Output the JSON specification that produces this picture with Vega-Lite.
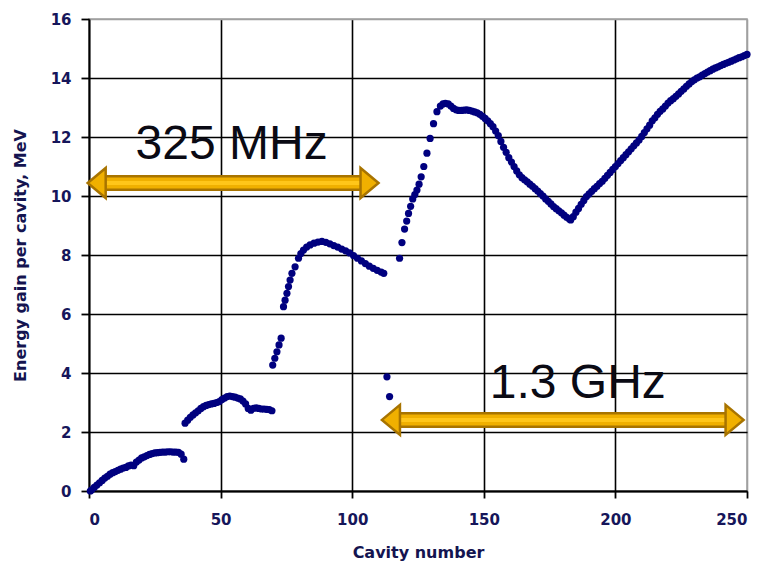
{
  "$schema": "https://vega.github.io/schema/vega-lite/v6.json",
  "width": 658,
  "height": 472,
  "autosize": "none",
  "padding": {"left": 89, "top": 19, "right": 20, "bottom": 74},
  "background": "white",
  "config": {
    "view": {"stroke": "#a0a0a0", "strokeWidth": 1.5},
    "axis": {
      "labelFont": "DejaVu Sans", "labelFontWeight": "bold", "labelFontSize": 15, "labelColor": "#16165a",
      "titleFont": "DejaVu Sans", "titleFontWeight": "bold", "titleFontSize": 16, "titleColor": "#141450",
      "domainColor": "black", "domainWidth": 1.8, "tickColor": "black", "tickWidth": 1.8,
      "gridColor": "black", "gridWidth": 1.6, "gridOpacity": 1
    }
  },
  "datasets": {
    "pts": [
      {"c":0.5,"e":0.0},{"c":1,"e":0.04},{"c":2,"e":0.12},{"c":3,"e":0.2},{"c":4,"e":0.28},{"c":5,"e":0.36},{"c":6,"e":0.44},{"c":7,"e":0.5},{"c":8,"e":0.57},{"c":9,"e":0.62},{"c":10,"e":0.66},{"c":11,"e":0.7},{"c":12,"e":0.74},{"c":13,"e":0.78},{"c":14,"e":0.8},{"c":15,"e":0.85},{"c":16,"e":0.88},{"c":17,"e":0.86},{"c":18,"e":0.98},{"c":19,"e":1.05},{"c":20,"e":1.12},{"c":21,"e":1.16},{"c":22,"e":1.2},{"c":23,"e":1.24},{"c":24,"e":1.27},{"c":25,"e":1.29},{"c":26,"e":1.3},{"c":27,"e":1.31},{"c":28,"e":1.32},{"c":29,"e":1.32},{"c":30,"e":1.33},{"c":31,"e":1.33},{"c":32,"e":1.32},{"c":33,"e":1.32},{"c":34,"e":1.31},{"c":35,"e":1.25},{"c":36,"e":1.08},
      {"c":36.5,"e":2.3},{"c":37.5,"e":2.4},{"c":38.5,"e":2.5},{"c":39.5,"e":2.58},{"c":40.5,"e":2.65},{"c":41.5,"e":2.72},{"c":42.5,"e":2.8},{"c":43.5,"e":2.86},{"c":44.5,"e":2.9},{"c":45.5,"e":2.93},{"c":46.5,"e":2.95},{"c":47.5,"e":2.97},{"c":48.5,"e":3.0},{"c":49.5,"e":3.03},{"c":50.5,"e":3.1},{"c":51.5,"e":3.15},{"c":52.5,"e":3.2},{"c":53.5,"e":3.22},{"c":54.5,"e":3.2},{"c":55.5,"e":3.18},{"c":56.5,"e":3.15},{"c":57.5,"e":3.12},{"c":58.5,"e":3.05},{"c":59.5,"e":2.95},{"c":60.5,"e":2.8},{"c":61.5,"e":2.74},{"c":62.5,"e":2.8},{"c":63.5,"e":2.82},{"c":64.5,"e":2.8},{"c":65.5,"e":2.78},{"c":66.5,"e":2.78},{"c":67.5,"e":2.77},{"c":68.5,"e":2.76},{"c":69.5,"e":2.72},
      {"c":69.8,"e":4.27},{"c":70.6,"e":4.5},{"c":71.4,"e":4.72},{"c":72.2,"e":4.95},{"c":73.0,"e":5.18},{"c":73.9,"e":6.25},{"c":74.5,"e":6.47},{"c":75.2,"e":6.7},{"c":75.8,"e":6.93},{"c":76.4,"e":7.15},{"c":77.1,"e":7.38},{"c":78.3,"e":7.6},{"c":79.6,"e":7.89},{"c":80.5,"e":8.05},{"c":81.5,"e":8.17},{"c":82.7,"e":8.27},{"c":84,"e":8.34},{"c":85.5,"e":8.4},{"c":87,"e":8.44},{"c":88.5,"e":8.46},{"c":90,"e":8.43},{"c":91.5,"e":8.38},{"c":93,"e":8.32},{"c":94.5,"e":8.27},{"c":96,"e":8.2},{"c":97.5,"e":8.14},{"c":99,"e":8.07},{"c":100.5,"e":7.98},{"c":102,"e":7.89},{"c":103.5,"e":7.8},{"c":105,"e":7.71},{"c":106.5,"e":7.62},{"c":108,"e":7.55},{"c":109.5,"e":7.48},{"c":111,"e":7.42},{"c":112,"e":7.38},
      {"c":113.2,"e":3.87},{"c":114.2,"e":3.2},
      {"c":118,"e":7.89},{"c":118.9,"e":8.42},{"c":119.9,"e":8.88},{"c":120.7,"e":9.15},{"c":121.4,"e":9.41},{"c":122.2,"e":9.65},{"c":123,"e":9.9},{"c":123.8,"e":10.05},{"c":124.6,"e":10.2},{"c":125.4,"e":10.4},{"c":126.2,"e":10.65},{"c":127.2,"e":11.0},{"c":128.4,"e":11.45},{"c":129.6,"e":11.95},{"c":130.9,"e":12.45},{"c":132.2,"e":12.86},{"c":133.5,"e":13.05},{"c":134.5,"e":13.12},{"c":135.4,"e":13.14},{"c":136.5,"e":13.12},{"c":137.5,"e":13.05},{"c":138.5,"e":12.97},{"c":139.5,"e":12.92},{"c":140.5,"e":12.9},{"c":141.5,"e":12.9},{"c":142.5,"e":12.91},{"c":143.5,"e":12.92},{"c":144.5,"e":12.9},{"c":145.5,"e":12.88},{"c":146.5,"e":12.85},{"c":147.5,"e":12.82},{"c":148.5,"e":12.77},{"c":149.5,"e":12.7},{"c":150.5,"e":12.63},{"c":151.5,"e":12.55},{"c":152.5,"e":12.45},{"c":153.5,"e":12.35},{"c":154.5,"e":12.2},{"c":155.5,"e":12.05},{"c":156.5,"e":11.85},{"c":157.5,"e":11.65},{"c":158.5,"e":11.48},{"c":159.5,"e":11.3},{"c":160.5,"e":11.15},{"c":161.5,"e":11.0},{"c":162.5,"e":10.85},{"c":163.5,"e":10.72},{"c":164.5,"e":10.62},{"c":165.5,"e":10.55},{"c":166.5,"e":10.48},{"c":167.5,"e":10.4},{"c":168.5,"e":10.33},{"c":169.5,"e":10.25},{"c":170.5,"e":10.17},{"c":171.5,"e":10.08},{"c":172.5,"e":10.0},{"c":173.5,"e":9.9},{"c":174.5,"e":9.82},{"c":175.5,"e":9.73},{"c":176.5,"e":9.64},{"c":177.5,"e":9.57},{"c":178.5,"e":9.5},{"c":179.5,"e":9.43},{"c":180.5,"e":9.35},{"c":181.5,"e":9.28},{"c":182.5,"e":9.22},{"c":183,"e":9.19},{"c":184,"e":9.3},{"c":185,"e":9.45},{"c":186,"e":9.58},{"c":187,"e":9.72},{"c":188,"e":9.85},{"c":189,"e":9.98},{"c":190,"e":10.07},{"c":191,"e":10.16},{"c":192,"e":10.25},{"c":193,"e":10.33},{"c":194,"e":10.42},{"c":195,"e":10.5},{"c":196,"e":10.6},{"c":197,"e":10.7},{"c":198,"e":10.8},{"c":199,"e":10.9},{"c":200,"e":11.0},{"c":201,"e":11.1},{"c":202,"e":11.2},{"c":203,"e":11.3},{"c":204,"e":11.4},{"c":205,"e":11.5},{"c":206,"e":11.6},{"c":207,"e":11.7},{"c":208,"e":11.8},{"c":209,"e":11.9},{"c":210,"e":12.02},{"c":211,"e":12.15},{"c":212,"e":12.28},{"c":213,"e":12.4},{"c":214,"e":12.55},{"c":215,"e":12.65},{"c":216,"e":12.77},{"c":217,"e":12.87},{"c":218,"e":12.95},{"c":219,"e":13.05},{"c":220,"e":13.15},{"c":221,"e":13.23},{"c":222,"e":13.3},{"c":223,"e":13.38},{"c":224,"e":13.46},{"c":225,"e":13.55},{"c":226,"e":13.63},{"c":227,"e":13.72},{"c":228,"e":13.8},{"c":229,"e":13.88},{"c":230,"e":13.94},{"c":231,"e":14.0},{"c":232,"e":14.04},{"c":233,"e":14.1},{"c":234,"e":14.15},{"c":235,"e":14.2},{"c":236,"e":14.25},{"c":237,"e":14.3},{"c":238,"e":14.34},{"c":239,"e":14.38},{"c":240,"e":14.42},{"c":241,"e":14.46},{"c":242,"e":14.5},{"c":243,"e":14.53},{"c":244,"e":14.57},{"c":245,"e":14.61},{"c":246,"e":14.65},{"c":247,"e":14.69},{"c":248,"e":14.72},{"c":249,"e":14.76},{"c":250,"e":14.8}
    ],
    "arrows": [
      {"label": "325 MHz", "x1": -0.5, "x2": 110, "y": 10.44, "tx": 54.2, "ty": 11.25},
      {"label": "1.3 GHz", "x1": 111.3, "x2": 248.7, "y": 2.41, "tx": 185.7, "ty": 3.15}
    ]
  },
  "layer": [
    {
      "data": {"name": "pts"},
      "mark": {"type": "point", "filled": true, "shape": "circle", "size": 52, "color": "#00007f", "opacity": 1},
      "encoding": {
        "x": {"field": "c", "type": "quantitative", "scale": {"domain": [0, 250], "nice": false, "zero": false},
          "axis": {"values": [0, 50, 100, 150, 200, 250], "title": "Cavity number", "tickSize": 7, "labelPadding": 14, "titlePadding": 17,
            "gridColor": {"condition": {"test": "datum.value === 250", "value": "#a0a0a0"}, "value": "black"}}},
        "y": {"field": "e", "type": "quantitative", "scale": {"domain": [0, 16], "nice": false},
          "axis": {"values": [0, 2, 4, 6, 8, 10, 12, 14, 16], "title": "Energy gain per cavity, MeV", "tickSize": 8, "labelPadding": 10, "titlePadding": 22,
            "gridColor": {"condition": {"test": "datum.value === 16", "value": "#a0a0a0"}, "value": "black"}}}
      }
    },
    {
      "data": {"name": "arrows"},
      "mark": {"type": "rule", "color": "#a87400", "strokeWidth": 16, "strokeCap": "butt", "xOffset": 14, "x2Offset": -14},
      "encoding": {"x": {"field": "x1", "type": "quantitative"}, "x2": {"field": "x2"}, "y": {"field": "y", "type": "quantitative"}}
    },
    {
      "data": {"name": "arrows"},
      "mark": {"type": "rule", "color": "#f0b000", "strokeWidth": 11, "strokeCap": "butt", "xOffset": 14, "x2Offset": -14},
      "encoding": {"x": {"field": "x1", "type": "quantitative"}, "x2": {"field": "x2"}, "y": {"field": "y", "type": "quantitative"}}
    },
    {
      "data": {"name": "arrows"},
      "mark": {"type": "rule", "color": "#ffc61a", "strokeWidth": 4, "strokeCap": "butt", "xOffset": 14, "x2Offset": -14},
      "encoding": {"x": {"field": "x1", "type": "quantitative"}, "x2": {"field": "x2"}, "y": {"field": "y", "type": "quantitative"}}
    },
    {
      "data": {"name": "arrows"},
      "mark": {"type": "point", "shape": "M0,0L1.2,-1L1.2,1Z", "size": 900, "filled": true, "fill": "#f0b000", "stroke": "#a87400", "strokeWidth": 2.5, "opacity": 1},
      "encoding": {"x": {"field": "x1", "type": "quantitative"}, "y": {"field": "y", "type": "quantitative"}}
    },
    {
      "data": {"name": "arrows"},
      "mark": {"type": "point", "shape": "M0,0L-1.2,-1L-1.2,1Z", "size": 900, "filled": true, "fill": "#f0b000", "stroke": "#a87400", "strokeWidth": 2.5, "opacity": 1},
      "encoding": {"x": {"field": "x2", "type": "quantitative"}, "y": {"field": "y", "type": "quantitative"}}
    },
    {
      "data": {"name": "arrows"},
      "mark": {"type": "text", "font": "Liberation Sans", "fontSize": 48, "align": "center", "baseline": "alphabetic", "color": "#0a0a14"},
      "encoding": {"x": {"field": "tx", "type": "quantitative"}, "y": {"field": "ty", "type": "quantitative"}, "text": {"field": "label"}}
    }
  ]
}
